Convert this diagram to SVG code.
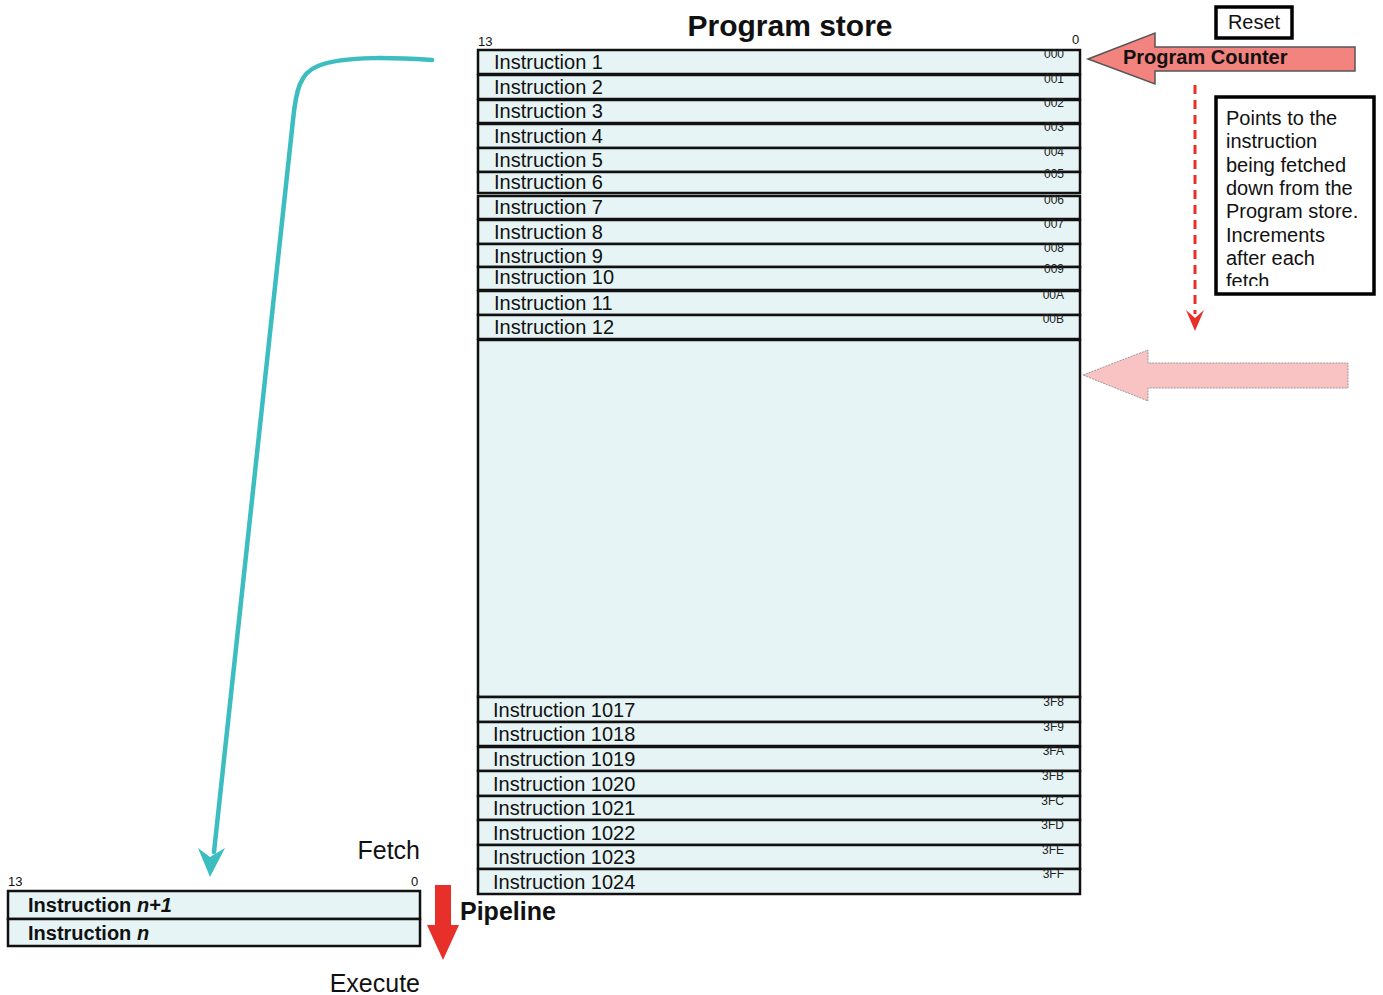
<svg xmlns="http://www.w3.org/2000/svg" width="1383" height="995" viewBox="0 0 1383 995">
<style>
.row{fill:#e6f4f5;stroke:#111;stroke-width:2.5}
.lbl{font-family:"Liberation Sans",Arial,sans-serif;font-size:20px;fill:#111}
.adr{font-family:"Liberation Sans",Arial,sans-serif;font-size:12px;fill:#222;text-anchor:end}
.bit{font-family:"Liberation Sans",Arial,sans-serif;font-size:13px;fill:#111}
.big{font-family:"Liberation Sans",Arial,sans-serif;font-size:25px;fill:#111}
.bold{font-weight:bold}
.box{fill:#fff;stroke:#000;stroke-width:3.5}
</style>
<defs>
<clipPath id="tbclip"><rect x="1217" y="98" width="156" height="188"/></clipPath>
</defs>
<rect width="1383" height="995" fill="#fff"/>
<text x="790" y="36" class="lbl bold" style="font-size:30px" text-anchor="middle">Program store</text>
<text x="478" y="46" class="bit">13</text>
<text x="1072" y="44" class="bit">0</text>

<g id="store">
<g id="r1"><rect class="row" x="478" y="50" width="602" height="24"/><text class="lbl" x="494" y="69">Instruction 1</text><text class="adr" x="1064" y="58">000</text></g>
<g id="r2"><rect class="row" x="478" y="75" width="602" height="24"/><text class="lbl" x="494" y="94">Instruction 2</text><text class="adr" x="1064" y="83">001</text></g>
<g id="r3"><rect class="row" x="478" y="100" width="602" height="23"/><text class="lbl" x="494" y="118">Instruction 3</text><text class="adr" x="1064" y="107">002</text></g>
<g id="r4"><rect class="row" x="478" y="124" width="602" height="24"/><text class="lbl" x="494" y="143">Instruction 4</text><text class="adr" x="1064" y="131">003</text></g>
<g id="r5"><rect class="row" x="478" y="148" width="602" height="24"/><text class="lbl" x="494" y="167">Instruction 5</text><text class="adr" x="1064" y="156">004</text></g>
<g id="r6"><rect class="row" x="478" y="172" width="602" height="21"/><text class="lbl" x="494" y="189">Instruction 6</text><text class="adr" x="1064" y="178">005</text></g>
<g id="r7"><rect class="row" x="478" y="196" width="602" height="23"/><text class="lbl" x="494" y="214">Instruction 7</text><text class="adr" x="1064" y="204">006</text></g>
<g id="r8"><rect class="row" x="478" y="220" width="602" height="24"/><text class="lbl" x="494" y="239">Instruction 8</text><text class="adr" x="1064" y="228">007</text></g>
<g id="r9"><rect class="row" x="478" y="244" width="602" height="23"/><text class="lbl" x="494" y="263">Instruction 9</text><text class="adr" x="1064" y="252">008</text></g>
<g id="r10"><rect class="row" x="478" y="267" width="602" height="23"/><text class="lbl" x="494" y="284">Instruction 10</text><text class="adr" x="1064" y="273">009</text></g>
<g id="r11"><rect class="row" x="478" y="291" width="602" height="24"/><text class="lbl" x="494" y="310">Instruction 11</text><text class="adr" x="1064" y="299">00A</text></g>
<g id="r12"><rect class="row" x="478" y="315" width="602" height="24"/><text class="lbl" x="494" y="334">Instruction 12</text><text class="adr" x="1064" y="323">00B</text></g>
<g id="gap"><rect class="row" x="478" y="340" width="602" height="357"/></g>
<g id="r1017"><rect class="row" x="478" y="697" width="602" height="25"/><text class="lbl" x="493" y="717">Instruction 1017</text><text class="adr" x="1064" y="706">3F8</text></g>
<g id="r1018"><rect class="row" x="478" y="722" width="602" height="24"/><text class="lbl" x="493" y="741">Instruction 1018</text><text class="adr" x="1064" y="731">3F9</text></g>
<g id="r1019"><rect class="row" x="478" y="747" width="602" height="24"/><text class="lbl" x="493" y="766">Instruction 1019</text><text class="adr" x="1064" y="755">3FA</text></g>
<g id="r1020"><rect class="row" x="478" y="771" width="602" height="25"/><text class="lbl" x="493" y="791">Instruction 1020</text><text class="adr" x="1064" y="780">3FB</text></g>
<g id="r1021"><rect class="row" x="478" y="796" width="602" height="24"/><text class="lbl" x="493" y="815">Instruction 1021</text><text class="adr" x="1064" y="805">3FC</text></g>
<g id="r1022"><rect class="row" x="478" y="820" width="602" height="25"/><text class="lbl" x="493" y="840">Instruction 1022</text><text class="adr" x="1064" y="829">3FD</text></g>
<g id="r1023"><rect class="row" x="478" y="845" width="602" height="24"/><text class="lbl" x="493" y="864">Instruction 1023</text><text class="adr" x="1064" y="854">3FE</text></g>
<g id="r1024"><rect class="row" x="478" y="869" width="602" height="25"/><text class="lbl" x="493" y="889">Instruction 1024</text><text class="adr" x="1064" y="878">3FF</text></g>
</g>

<g id="reset"><rect class="box" x="1216" y="7" width="76" height="31"/><text class="lbl" x="1254" y="29" text-anchor="middle">Reset</text></g>

<g id="pc">
<polygon points="1088,59 1155,33 1155,47 1355,47 1355,71 1155,71 1155,84" fill="#f2837e" stroke="#555" stroke-width="1.5"/>
<text class="lbl bold" x="1123" y="64" fill="#222">Program Counter</text>
</g>

<g id="note">
<rect class="box" x="1216" y="97" width="158" height="197"/>
<g clip-path="url(#tbclip)">
<text class="lbl" x="1226" y="125">Points to the</text>
<text class="lbl" x="1226" y="148">instruction</text>
<text class="lbl" x="1226" y="172">being fetched</text>
<text class="lbl" x="1226" y="195">down from the</text>
<text class="lbl" x="1226" y="218">Program store.</text>
<text class="lbl" x="1226" y="242">Increments</text>
<text class="lbl" x="1226" y="265">after each</text>
<text class="lbl" x="1226" y="288">fetch</text>
</g>
</g>

<g id="faded">
<polygon points="1083,375 1148,350 1148,363 1348,363 1348,388 1148,388 1148,401" fill="#f9c3c3" stroke="#999" stroke-width="1" stroke-dasharray="2,1"/>
</g>

<g id="pipeline">
<text x="8" y="886" class="bit">13</text>
<text x="411" y="886" class="bit">0</text>
<g id="p1"><rect class="row" x="8" y="891" width="412" height="28"/><text class="lbl bold" x="28" y="912">Instruction <tspan font-style="italic">n+1</tspan></text></g>
<g id="p2"><rect class="row" x="8" y="919" width="412" height="27"/><text class="lbl bold" x="28" y="940">Instruction <tspan font-style="italic">n</tspan></text></g>
<text class="big" x="420" y="859" text-anchor="end">Fetch</text>
<text class="big" x="420" y="992" text-anchor="end">Execute</text>
<text class="big bold" x="460" y="920">Pipeline</text>
</g>

<g id="connectors">
<path d="M432,60 C400,58 345,55 318,66 C300,73 296,90 293,120 L214,852" fill="none" stroke="#3cbdbf" stroke-width="4.5" stroke-linecap="round"/>
<polygon points="198,848 210,857 225,848 210,877" fill="#3cbdbf"/>
<line x1="1195" y1="85" x2="1195" y2="314" stroke="#e8302a" stroke-width="3" stroke-dasharray="9,6"/>
<polygon points="1186,310 1195,318 1204,310 1195,331" fill="#e8302a"/>
<polygon points="435,885 451,885 451,925 459,925 443,960 427,925 435,925" fill="#e8302a"/>
</g>
</svg>
